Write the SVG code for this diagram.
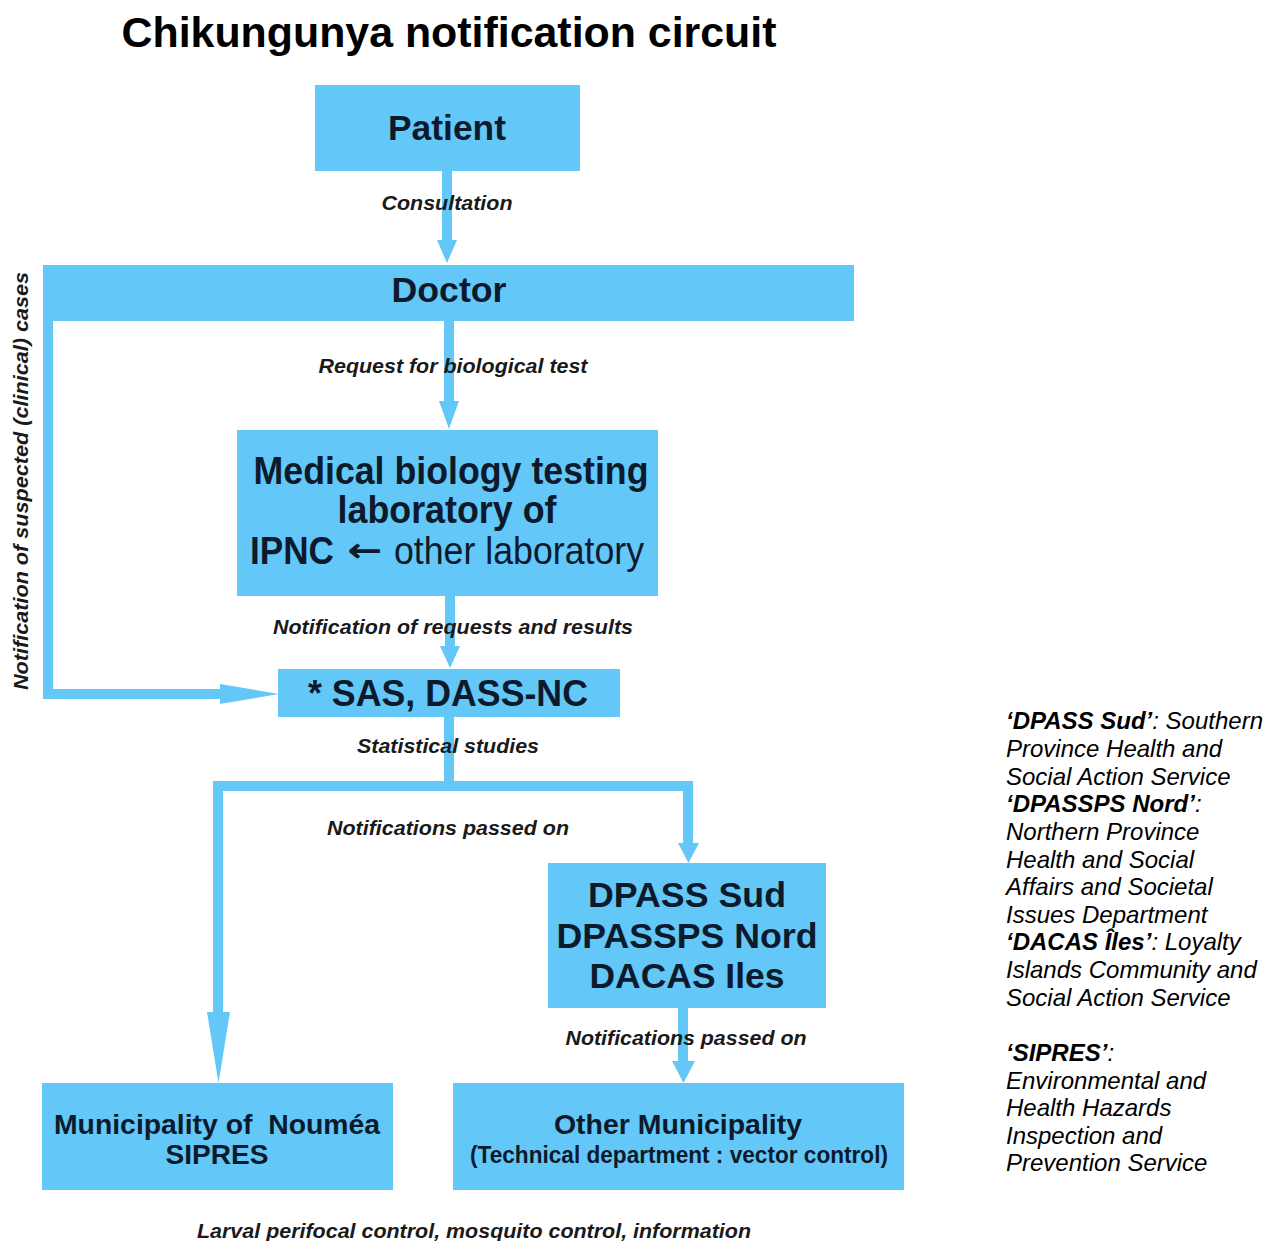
<svg xmlns="http://www.w3.org/2000/svg" width="1276" height="1241" viewBox="0 0 1276 1241">
<style>
.box{fill:#63c7f8}
.t{font-family:"Liberation Sans",Arial,sans-serif;font-weight:bold;fill:#0d1a2b;text-anchor:middle}
.s{text-anchor:start}
.lbl{font-family:"Liberation Sans",Arial,sans-serif;font-weight:bold;font-style:italic;font-size:20px;fill:#1a1a1a;text-anchor:middle}
.ln{stroke:#63c7f8;stroke-width:10;fill:none}
.ah{fill:#63c7f8}
.note{font-family:"Liberation Sans",Arial,sans-serif;font-style:italic;font-size:24px;fill:#000}
.b{font-weight:bold}
</style>
<rect width="1276" height="1241" fill="#fff"/>
<text class="t" x="449" y="47" font-size="42" textLength="655" lengthAdjust="spacingAndGlyphs" style="fill:#000">Chikungunya notification circuit</text>

<g id="connectors">
  <line class="ln" x1="447" y1="170" x2="447" y2="244"/>
  <polygon class="ah" points="437,240 457,240 447,263"/>
  <line class="ln" x1="449" y1="320" x2="449" y2="405"/>
  <polygon class="ah" points="439,401 459,401 449,429"/>
  <line class="ln" x1="450" y1="595" x2="450" y2="650"/>
  <polygon class="ah" points="440,646 460,646 450,668"/>
  <polyline class="ln" points="48,320 48,694 226,694"/>
  <polygon class="ah" points="220,684 279,694 220,704"/>
  <line class="ln" x1="449" y1="716" x2="449" y2="786"/>
  <polyline class="ln" points="218,1020 218,786 688,786 688,846"/>
  <polygon class="ah" points="207,1012 230,1012 218.5,1083"/>
  <polygon class="ah" points="678,843 699,843 688.5,863"/>
  <line class="ln" x1="683" y1="1007" x2="683" y2="1064"/>
  <polygon class="ah" points="672,1061 695,1061 683.5,1083"/>
</g>

<g id="patient">
  <rect class="box" x="315" y="85" width="265" height="86"/>
  <text class="t" x="447" y="140" font-size="35" textLength="118" lengthAdjust="spacingAndGlyphs">Patient</text>
</g>
<g id="doctor">
  <rect class="box" x="43" y="265" width="811" height="56"/>
  <text class="t" x="449" y="302" font-size="35" textLength="115" lengthAdjust="spacingAndGlyphs">Doctor</text>
</g>
<g id="lab">
  <rect class="box" x="237" y="430" width="421" height="166"/>
  <text class="t" x="451" y="484" font-size="38" textLength="395" lengthAdjust="spacingAndGlyphs">Medical biology testing</text>
  <text class="t" x="447" y="523" font-size="38" textLength="219" lengthAdjust="spacingAndGlyphs">laboratory of</text>
  <text class="t s" x="250" y="564" font-size="38" textLength="84" lengthAdjust="spacingAndGlyphs">IPNC</text>
  <text class="t s" x="347" y="562" font-size="34" textLength="35" lengthAdjust="spacingAndGlyphs" style="font-family:'DejaVu Sans',sans-serif">←</text>
  <text class="t s" x="394" y="564" font-size="38" font-weight="normal" textLength="250" lengthAdjust="spacingAndGlyphs" style="font-weight:normal">other laboratory</text>
</g>
<g id="sas">
  <rect class="box" x="278" y="669" width="342" height="48"/>
  <text class="t" x="448" y="706" font-size="37" textLength="280" lengthAdjust="spacingAndGlyphs">* SAS, DASS-NC</text>
</g>
<g id="dpass">
  <rect class="box" x="548" y="863" width="278" height="145"/>
  <text class="t" x="687" y="907" font-size="35" textLength="198" lengthAdjust="spacingAndGlyphs">DPASS Sud</text>
  <text class="t" x="687" y="948" font-size="35" textLength="261" lengthAdjust="spacingAndGlyphs">DPASSPS Nord</text>
  <text class="t" x="687" y="988" font-size="35" textLength="195" lengthAdjust="spacingAndGlyphs">DACAS Iles</text>
</g>
<g id="noumea">
  <rect class="box" x="42" y="1083" width="351" height="107"/>
  <text class="t" x="217" y="1134" font-size="28" textLength="326" lengthAdjust="spacingAndGlyphs" xml:space="preserve">Municipality of  Nouméa</text>
  <text class="t" x="217" y="1164" font-size="28" textLength="103" lengthAdjust="spacingAndGlyphs">SIPRES</text>
</g>
<g id="other">
  <rect class="box" x="453" y="1083" width="451" height="107"/>
  <text class="t" x="678" y="1134" font-size="28" textLength="248" lengthAdjust="spacingAndGlyphs">Other Municipality</text>
  <text class="t" x="679" y="1163" font-size="24" textLength="418" lengthAdjust="spacingAndGlyphs">(Technical department : vector control)</text>
</g>

<g id="labels">
  <text class="lbl" x="447" y="210" textLength="131" lengthAdjust="spacingAndGlyphs">Consultation</text>
  <text class="lbl" x="453" y="373" textLength="269" lengthAdjust="spacingAndGlyphs">Request for biological test</text>
  <text class="lbl" x="453" y="634" textLength="360" lengthAdjust="spacingAndGlyphs">Notification of requests and results</text>
  <text class="lbl" x="448" y="753" textLength="182" lengthAdjust="spacingAndGlyphs">Statistical studies</text>
  <text class="lbl" x="448" y="835" textLength="242" lengthAdjust="spacingAndGlyphs">Notifications passed on</text>
  <text class="lbl" x="686" y="1045" textLength="241" lengthAdjust="spacingAndGlyphs">Notifications passed on</text>
  <text class="lbl" x="474" y="1238" textLength="554" lengthAdjust="spacingAndGlyphs">Larval perifocal control, mosquito control, information</text>
  <text class="lbl" transform="translate(28,481) rotate(-90)" x="0" y="0" textLength="418" lengthAdjust="spacingAndGlyphs">Notification of suspected (clinical) cases</text>
</g>

<g id="legend">
  <text class="note" x="1006" y="729"><tspan class="b">‘DPASS Sud’</tspan>: Southern</text>
  <text class="note" x="1006" y="757">Province Health and</text>
  <text class="note" x="1006" y="785">Social Action Service</text>
  <text class="note" x="1006" y="812"><tspan class="b">‘DPASSPS Nord’</tspan>:</text>
  <text class="note" x="1006" y="840">Northern Province</text>
  <text class="note" x="1006" y="868">Health and Social</text>
  <text class="note" x="1006" y="895">Affairs and Societal</text>
  <text class="note" x="1006" y="923">Issues Department</text>
  <text class="note" x="1006" y="950"><tspan class="b">‘DACAS Îles’</tspan>: Loyalty</text>
  <text class="note" x="1006" y="978">Islands Community and</text>
  <text class="note" x="1006" y="1006">Social Action Service</text>
  <text class="note" x="1006" y="1061"><tspan class="b">‘SIPRES’</tspan>:</text>
  <text class="note" x="1006" y="1089">Environmental and</text>
  <text class="note" x="1006" y="1116">Health Hazards</text>
  <text class="note" x="1006" y="1144">Inspection and</text>
  <text class="note" x="1006" y="1171">Prevention Service</text>
</g>
</svg>
